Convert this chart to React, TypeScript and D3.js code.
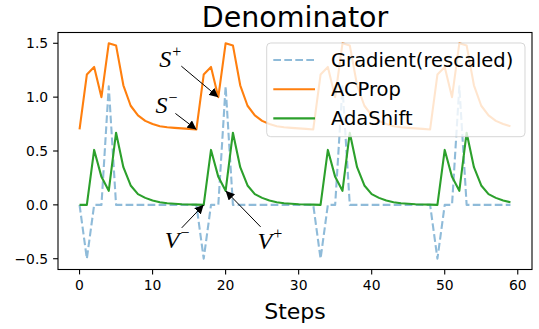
import React from "react";
import * as d3 from "d3";

// values, one per step (0..59)
const steps = d3.range(60);

const gradient = [
  0, -0.5, 0, 0, 1.1, 0, 0, 0, 0, 0, 0, 0, 0, 0, 0, 0,
  0, -0.5, 0, 0, 1.1, 0, 0, 0, 0, 0, 0, 0, 0, 0, 0, 0,
  0, -0.5, 0, 0, 1.1, 0, 0, 0, 0, 0, 0, 0, 0, 0, 0, 0,
  0, -0.5, 0, 0, 1.1, 0, 0, 0, 0, 0, 0, 0,
];

const acprop = [
  0.7, 1.21, 1.28, 1.0, 1.5, 1.48, 1.11, 0.92, 0.83, 0.78, 0.75, 0.73, 0.72, 0.715, 0.71, 0.705,
  0.7, 1.21, 1.28, 1.0, 1.5, 1.48, 1.11, 0.92, 0.83, 0.78, 0.75, 0.73, 0.72, 0.715, 0.71, 0.705,
  0.7, 1.21, 1.28, 1.0, 1.5, 1.48, 1.11, 0.92, 0.83, 0.78, 0.75, 0.73, 0.72, 0.715, 0.71, 0.705,
  0.7, 1.21, 1.28, 1.0, 1.5, 1.48, 1.11, 0.92, 0.83, 0.78, 0.75, 0.73,
];

const adashift = [
  0, 0, 0.51, 0.26, 0.13, 0.67, 0.35, 0.18, 0.1, 0.065, 0.04, 0.025, 0.015, 0.01, 0.006, 0.004,
  0.002, 0, 0.51, 0.26, 0.13, 0.67, 0.35, 0.18, 0.1, 0.065, 0.04, 0.025, 0.015, 0.01, 0.006, 0.004,
  0.002, 0, 0.51, 0.26, 0.13, 0.67, 0.35, 0.18, 0.1, 0.065, 0.04, 0.025, 0.015, 0.01, 0.006, 0.004,
  0.002, 0, 0.51, 0.26, 0.13, 0.67, 0.35, 0.18, 0.1, 0.065, 0.04, 0.025,
];

const xTicks = [0, 10, 20, 30, 40, 50, 60];
const yTicks = [-0.5, 0, 0.5, 1.0, 1.5];

const series = [
  { name: "Gradient(rescaled)", values: gradient, color: "#1f77b4", opacity: 0.5, dash: "7.7,3.3" },
  { name: "ACProp", values: acprop, color: "#ff7f0e", opacity: 1, dash: null },
  { name: "AdaShift", values: adashift, color: "#2ca02c", opacity: 1, dash: null },
];

// annotations: label, which series/step the arrow points at, text + arrow tail offsets (px)
const notes = [
  { sym: "S", sup: "+", values: acprop, step: 19, tx: -59, ty: -30, ax: -37, ay: -31 },
  { sym: "S", sup: "\u2212", values: acprop, step: 16, tx: -41, ty: -16, ax: -21, ay: -16 },
  { sym: "V", sup: "\u2212", values: adashift, step: 17, tx: -39, ty: 43, ax: -22, ay: 23 },
  { sym: "V", sup: "+", values: adashift, step: 20, tx: 32, ty: 58, ax: 35, ay: 36 },
];

const W = 539;
const H = 329;
const M = { left: 58, right: 532, top: 32.5, bottom: 269.5 };

export default function App() {
  const all = [...gradient, ...acprop, ...adashift];
  const lo = d3.min(all) as number;
  const hi = d3.max(all) as number;
  const pad = (hi - lo) * 0.05;

  const x = d3.scaleLinear().domain([-2.95, 61.95]).range([M.left, M.right]);
  const y = d3.scaleLinear().domain([lo - pad, hi + pad]).range([M.bottom, M.top]);

  const line = (vals: number[]) =>
    d3
      .line<number>()
      .x((d, i) => x(steps[i]))
      .y(d => y(d))(vals) as string;

  const font = "DejaVu Sans, sans-serif";
  const tick = 4.9;
  const midX = (M.left + M.right) / 2;

  return (
    <div style={{ position: "fixed", left: 0, top: 0 }}>
      <svg width={W} height={H} style={{ display: "block", background: "#fff" }}>
        <defs>
          <marker id="head" viewBox="0 0 10 10" refX="10" refY="5" markerWidth="9" markerHeight="9"
            markerUnits="userSpaceOnUse" orient="auto">
            <path d="M0,0 L10,5 L0,10 z" fill="#000" />
          </marker>
          <clipPath id="plot">
            <rect x={M.left} y={M.top} width={M.right - M.left} height={M.bottom - M.top} />
          </clipPath>
        </defs>

        <text x={midX} y={26.5} textAnchor="middle" fontFamily={font} fontSize={28.5}>
          Denominator
        </text>

        <g clipPath="url(#plot)">
          {series.map(s => (
            <path key={s.name} d={line(s.values)} fill="none" stroke={s.color} strokeOpacity={s.opacity}
              strokeWidth={2.1} strokeDasharray={s.dash || undefined} strokeLinejoin="round" />
          ))}
        </g>

        {notes.map((n, i) => {
          const hx = x(n.step);
          const hy = y(n.values[n.step]);
          return (
            <g key={i}>
              <line x1={hx + n.ax} y1={hy + n.ay} x2={hx} y2={hy} stroke="#000" strokeWidth={1}
                markerEnd="url(#head)" />
              <text x={hx + n.tx} y={hy + n.ty} fontFamily="Liberation Serif, serif" fontSize={24}
                fontStyle="italic">
                {n.sym}
                <tspan dx={1} dy={-10} fontSize={16} fontStyle="normal">{n.sup}</tspan>
              </text>
            </g>
          );
        })}

        {/* legend */}
        <g>
          <rect x={266.7} y={43} width={258.3} height={93.7} rx={4} fill="#fff" fillOpacity={0.8}
            stroke="#ccc" strokeOpacity={0.8} />
          {series.map((s, i) => {
            const cy = 60 + i * 29.2;
            return (
              <g key={s.name}>
                <line x1={273.3} x2={315} y1={cy} y2={cy} stroke={s.color} strokeOpacity={s.opacity}
                  strokeWidth={2.1} strokeDasharray={s.dash || undefined} />
                <text x={331} y={cy + 7} fontFamily={font} fontSize={19.5}>{s.name}</text>
              </g>
            );
          })}
        </g>

        {/* axes */}
        <rect x={M.left} y={M.top} width={M.right - M.left} height={M.bottom - M.top} fill="none"
          stroke="#000" strokeWidth={1.1} />
        {xTicks.map(t => (
          <g key={t}>
            <line x1={x(t)} x2={x(t)} y1={M.bottom} y2={M.bottom + tick} stroke="#000" strokeWidth={1.1} />
            <text x={x(t)} y={M.bottom + 2 * tick + 10.2} textAnchor="middle" fontFamily={font} fontSize={13.9}>
              {t}
            </text>
          </g>
        ))}
        {yTicks.map(t => (
          <g key={t}>
            <line x1={M.left - tick} x2={M.left} y1={y(t)} y2={y(t)} stroke="#000" strokeWidth={1.1} />
            <text x={M.left - 2 * tick} y={y(t) + 5} textAnchor="end" fontFamily={font} fontSize={13.9}>
              {d3.format(".1f")(t).replace("-", "\u2212")}
            </text>
          </g>
        ))}
        <text x={midX} y={319} textAnchor="middle" fontFamily={font} fontSize={22}>
          Steps
        </text>
      </svg>
    </div>
  );
}
